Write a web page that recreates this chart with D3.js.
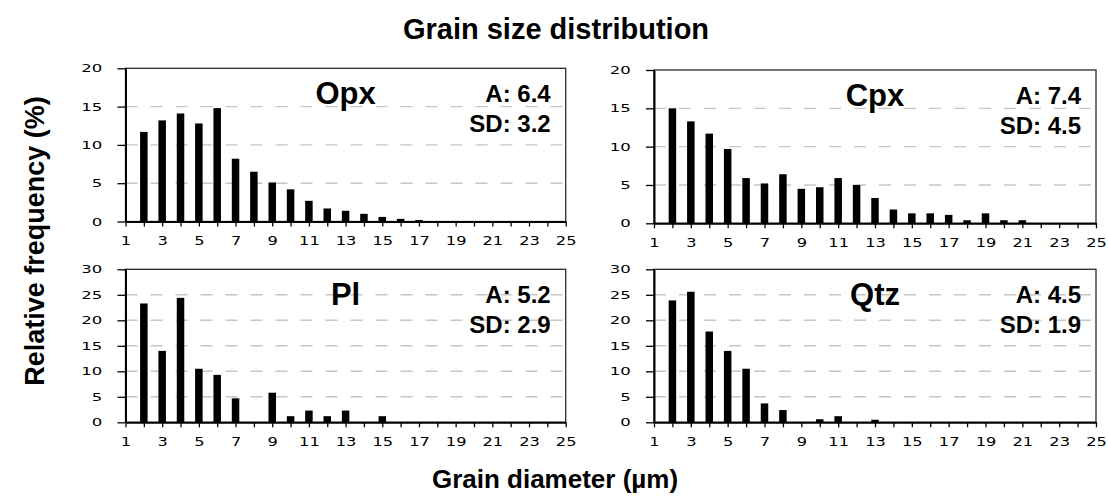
<!DOCTYPE html>
<html>
<head>
<meta charset="utf-8">
<script src="https://cdn.jsdelivr.net/npm/d3@7"></script>
<style>
  body { margin: 0; background: #fff; }
  svg { display: block; }
</style>
</head>
<body>
<div id="chart"></div>
<script>
// grain diameter classes (um)
const grainSizes = [1,2,3,4,5,6,7,8,9,10,11,12,13,14,15,16,17,18,19,20,21,22,23,24,25];

// relative frequency (%) per class
const opx = [0,11.7,13.2,14.1,12.8,14.8,8.2,6.5,5.1,4.2,2.7,1.7,1.4,1.0,0.6,0.35,0.2,0,0,0,0,0,0,0,0];
const cpx = [0,15.0,13.3,11.7,9.7,5.9,5.2,6.4,4.5,4.7,5.9,5.0,3.3,1.8,1.3,1.3,1.1,0.4,1.3,0.4,0.4,0,0,0,0];
const pl  = [0,23.3,14.0,24.4,10.5,9.3,4.7,0,5.8,1.2,2.3,1.2,2.3,0,1.2,0,0,0,0,0,0,0,0,0,0];
const qtz = [0,23.9,25.6,17.8,14.0,10.5,3.7,2.4,0,0.6,1.2,0,0.5,0,0,0,0,0,0,0,0,0,0,0,0];

const minerals = ["Opx","Cpx","Pl","Qtz"];
const meanVals = ["6.4","7.4","5.2","4.5"];
const sdVals   = ["3.2","4.5","2.9","1.9"];
const yTicksSmall = [0,5,10,15,20];
const yTicksBig   = [0,5,10,15,20,25,30];
const xTickLabels = [1,3,5,7,9,11,13,15,17,19,21,23,25];

const series = [opx, cpx, pl, qtz];
const yTickSets = [yTicksSmall, yTicksSmall, yTicksBig, yTicksBig];

let width = 1108, height = 497;

// plot boxes (left, top, right, bottom)
let boxes = [
  {l:125.5, t:68.3, r:565.7, b:221.5},
  {l:654,   t:70,   r:1096,  b:223.3},
  {l:125.5, t:269.3, r:565.7, b:422.3},
  {l:654,   t:269.3, r:1096,  b:422.3}
];

let svg = d3.select("#chart")
  .append("svg")
  .attr("width", width)
  .attr("height", height);

const boldFont = "'Liberation Sans', Arial, sans-serif";
const narrowFont = "'Liberation Sans Narrow', 'Arial Narrow', 'Liberation Sans', sans-serif";
const tickFont = "'DejaVu Sans', Verdana, sans-serif";

//titles
svg.append("text")
  .attr("x", 556)
  .attr("y", 39)
  .attr("text-anchor", "middle")
  .attr("font-family", boldFont)
  .attr("font-weight", "bold")
  .attr("font-size", "29px")
  .attr("fill", "#000")
  .text("Grain size distribution");

svg.append("text")
  .attr("x", 555)
  .attr("y", 488)
  .attr("text-anchor", "middle")
  .attr("font-family", boldFont)
  .attr("font-weight", "bold")
  .attr("font-size", "26px")
  .attr("fill", "#000")
  .text("Grain diameter (µm)");

svg.append("text")
  .attr("transform", "translate(44,241) rotate(-90)")
  .attr("text-anchor", "middle")
  .attr("font-family", boldFont)
  .attr("font-weight", "bold")
  .attr("font-size", "27px")
  .attr("fill", "#000")
  .text("Relative frequency (%)");

series.forEach(function(vals, i) {
  let box = boxes[i];
  let w = box.r - box.l;
  let h = box.b - box.t;
  let yTicks = yTickSets[i];
  let yMax = yTicks[yTicks.length - 1];

  let x = d3.scaleLinear().domain([grainSizes[0], grainSizes[grainSizes.length-1]]).range([0, w]);
  let y = d3.scaleLinear().domain([0, yMax]).range([h, 0]);

  let g = svg.append("g")
    .attr("transform", "translate(" + box.l + "," + box.t + ")");

  // dashed gridlines
  g.selectAll(".grid")
    .data(yTicks.filter(t => t > 0 && t < yMax))
    .enter()
    .append("line")
    .attr("x1", 0)
    .attr("x2", w)
    .attr("y1", d => y(d))
    .attr("y2", d => y(d))
    .attr("stroke", "#c6c6c6")
    .attr("stroke-width", 1.4)
    .attr("stroke-dasharray", "12,13");

  // plot frame
  g.append("rect")
    .attr("x", 0)
    .attr("y", 0)
    .attr("width", w)
    .attr("height", h)
    .attr("fill", "none")
    .attr("stroke", "#2a2a2a")
    .attr("stroke-width", 1.3);

  // bars
  let data = grainSizes.map((s, j) => ({size: s, v: vals[j]})).filter(d => d.v > 0);
  g.selectAll(".bar")
    .data(data)
    .enter()
    .append("rect")
    .attr("x", d => x(d.size) - 3.75)
    .attr("width", 7.5)
    .attr("y", d => y(d.v))
    .attr("height", d => y(0) - y(d.v))
    .attr("fill", "#000");

  // y axis
  let yAxis = g.append("g")
    .call(d3.axisLeft(y).tickValues(yTicks).tickSize(8).tickSizeOuter(0));
  yAxis.select(".domain").attr("stroke", "#000").attr("stroke-width", 2);
  yAxis.selectAll(".tick line").attr("stroke", "#000").attr("stroke-width", 1.3);
  yAxis.selectAll(".tick text")
    .attr("x", -15.5)
    .attr("transform", "scale(1.5,1)")
    .attr("font-family", tickFont)
    .attr("font-size", "11px")
    .attr("fill", "#000");

  // x axis
  let xAxis = g.append("g")
    .attr("transform", "translate(0," + h + ")")
    .call(d3.axisBottom(x)
      .tickValues(grainSizes)
      .tickFormat(d => xTickLabels.includes(d) ? d : "")
      .tickSize(5)
      .tickSizeOuter(0));
  xAxis.select(".domain").attr("stroke", "#000").attr("stroke-width", 2);
  xAxis.selectAll(".tick line").attr("stroke", "#000").attr("stroke-width", 1.3);
  xAxis.selectAll(".tick text")
    .attr("y", 14)
    .attr("transform", "scale(1.25,1)")
    .attr("font-family", tickFont)
    .attr("font-size", "13px")
    .attr("fill", "#000");

  // mineral name
  g.append("text")
    .attr("x", w / 2)
    .attr("y", 36)
    .attr("text-anchor", "middle")
    .attr("font-family", narrowFont)
    .attr("font-weight", "bold")
    .attr("font-size", "31px")
    .attr("fill", "#000")
    .text(minerals[i]);

  // average and SD
  g.append("text")
    .attr("x", w - 15)
    .attr("y", 34)
    .attr("text-anchor", "end")
    .attr("font-family", boldFont)
    .attr("font-weight", "bold")
    .attr("font-size", "24px")
    .attr("fill", "#000")
    .text("A: " + meanVals[i]);

  g.append("text")
    .attr("x", w - 15)
    .attr("y", 64)
    .attr("text-anchor", "end")
    .attr("font-family", boldFont)
    .attr("font-weight", "bold")
    .attr("font-size", "24px")
    .attr("fill", "#000")
    .text("SD: " + sdVals[i]);
});
</script>
</body>
</html>
